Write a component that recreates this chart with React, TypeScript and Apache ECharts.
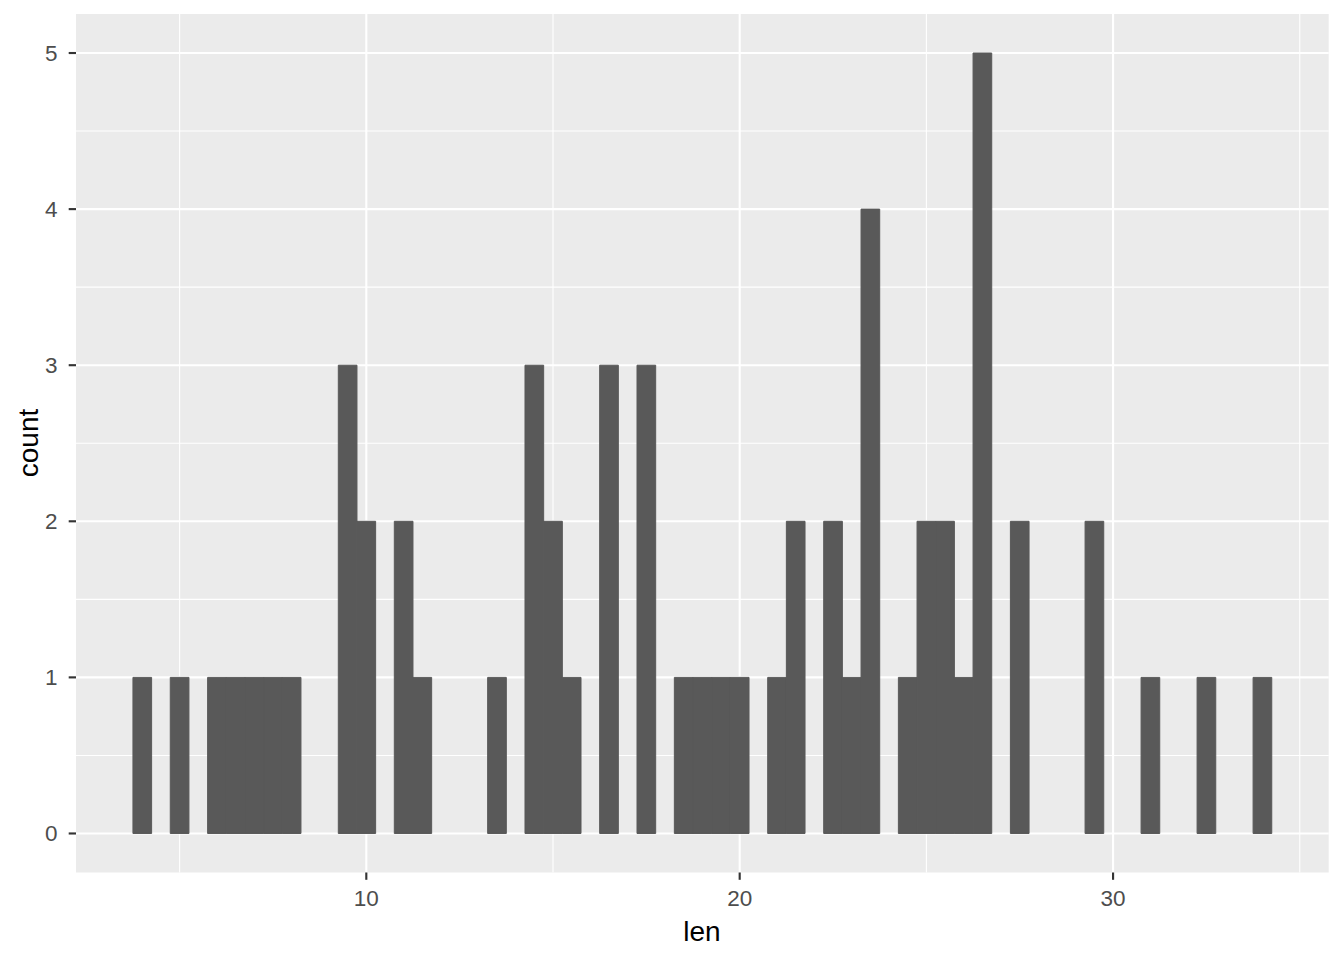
import React, { useEffect, useRef } from "react";
import * as echarts from "echarts";

// Histogram of len (binwidth 0.5); bin centres and counts
const binWidth = 0.5;
const binCenters = [
  4, 5, 6, 6.5, 7, 7.5, 8, 9.5, 10, 11, 11.5, 13.5, 14.5, 15, 15.5, 16.5, 17.5,
  18.5, 19, 19.5, 20, 21, 21.5, 22.5, 23, 23.5, 24.5, 25, 25.5, 26, 26.5, 27.5,
  29.5, 31, 32.5, 34,
];
const counts = [
  1, 1, 1, 1, 1, 1, 1, 3, 2, 2, 1, 1, 3, 2, 1, 3, 3,
  1, 1, 1, 1, 1, 2, 2, 1, 4, 1, 2, 2, 1, 5, 2,
  2, 1, 1, 1,
];
const xTicks = [10, 20, 30];
const xMinor = [5, 15, 25, 35];
const yTicks = [0, 1, 2, 3, 4, 5];
const yMinor = [0.5, 1.5, 2.5, 3.5, 4.5];
const xLimits = [2.225, 35.775];
const yLimits = [-0.25, 5.25];
const xTitle = "len";
const yTitle = "count";

const FONT = "'Liberation Sans', Arial, sans-serif";
const TICK_LEN = 7.3;
const LABEL_SIZE = 22.5;

export default function App() {
  const ref = useRef<HTMLDivElement>(null);
  useEffect(() => {
    if (!ref.current) return;
    const chart = echarts.init(ref.current, undefined, { renderer: "svg" });

    const gridLines: any[] = [];
    xMinor.forEach((v) => gridLines.push([v, 0, 1.07]));
    yMinor.forEach((v) => gridLines.push([v, 1, 1.07]));
    xTicks.forEach((v) => gridLines.push([v, 0, 2.13]));
    yTicks.forEach((v) => gridLines.push([v, 1, 2.13]));

    const tickData: any[] = [];
    xTicks.forEach((v) => tickData.push([v, 0]));
    yTicks.forEach((v) => tickData.push([v, 1]));

    const option: any = {
      animation: false,
      grid: {
        left: 76,
        right: 15.3,
        top: 14,
        bottom: 87.5,
        show: true,
        backgroundColor: "#EBEBEB",
        borderWidth: 0,
      },
      xAxis: {
        type: "value",
        min: xLimits[0],
        max: xLimits[1],
        axisLine: { show: false, onZero: false },
        splitLine: { show: false },
        axisTick: { show: false },
        axisLabel: { show: false },
      },
      yAxis: {
        type: "value",
        min: yLimits[0],
        max: yLimits[1],
        axisLine: { show: false, onZero: false },
        splitLine: { show: false },
        axisTick: { show: false },
        axisLabel: { show: false },
      },
      series: [
        {
          type: "custom",
          z: 1,
          silent: true,
          data: gridLines,
          renderItem: (params: any, api: any) => {
            const cs = params.coordSys;
            const v = api.value(0);
            const dir = api.value(1);
            const w = api.value(2);
            if (dir === 0) {
              const p = api.coord([v, 0]);
              return {
                type: "line",
                shape: { x1: p[0], y1: cs.y, x2: p[0], y2: cs.y + cs.height },
                style: { stroke: "#FFFFFF", lineWidth: w },
              };
            }
            const p = api.coord([xLimits[0], v]);
            return {
              type: "line",
              shape: { x1: cs.x, y1: p[1], x2: cs.x + cs.width, y2: p[1] },
              style: { stroke: "#FFFFFF", lineWidth: w },
            };
          },
        },
        {
          type: "custom",
          z: 2,
          data: binCenters.map((c, i) => [c, counts[i]]),
          renderItem: (params: any, api: any) => {
            const c = api.value(0);
            const n = api.value(1);
            const p0 = api.coord([c - binWidth / 2, n]);
            const p1 = api.coord([c + binWidth / 2, 0]);
            return {
              type: "rect",
              shape: { x: p0[0], y: p0[1], width: p1[0] - p0[0], height: p1[1] - p0[1] },
              style: { fill: "#595959", stroke: "#595959", lineWidth: 1 },
            };
          },
        },
        {
          type: "custom",
          z: 3,
          silent: true,
          clip: false,
          data: tickData,
          renderItem: (params: any, api: any) => {
            const cs = params.coordSys;
            const v = api.value(0);
            const dir = api.value(1);
            if (dir === 0) {
              const p = api.coord([v, 0]);
              const yb = cs.y + cs.height;
              return {
                type: "group",
                children: [
                  {
                    type: "line",
                    shape: { x1: p[0], y1: yb, x2: p[0], y2: yb + TICK_LEN },
                    style: { stroke: "#333333", lineWidth: 2.13 },
                  },
                  {
                    type: "text",
                    x: p[0],
                    y: 898.3,
                    style: {
                      text: String(v),
                      fill: "#4D4D4D",
                      fontSize: LABEL_SIZE,
                      fontFamily: FONT,
                      align: "center",
                      verticalAlign: "middle",
                    },
                  },
                ],
              };
            }
            const p = api.coord([xLimits[0], v]);
            return {
              type: "group",
              children: [
                {
                  type: "line",
                  shape: { x1: cs.x - TICK_LEN, y1: p[1], x2: cs.x, y2: p[1] },
                  style: { stroke: "#333333", lineWidth: 2.13 },
                },
                {
                  type: "text",
                  x: 57.5,
                  y: p[1] + 0.5,
                  style: {
                    text: String(v),
                    fill: "#4D4D4D",
                    fontSize: LABEL_SIZE,
                    fontFamily: FONT,
                    align: "right",
                    verticalAlign: "middle",
                  },
                },
              ],
            };
          },
        },
      ],
      graphic: [
        {
          type: "text",
          x: 702,
          y: 931,
          style: {
            text: xTitle,
            fill: "#000000",
            fontSize: 28,
            fontFamily: FONT,
            textAlign: "center",
            textVerticalAlign: "middle",
          },
        },
        {
          type: "text",
          x: 28,
          y: 443,
          rotation: Math.PI / 2,
          style: {
            text: yTitle,
            fill: "#000000",
            fontSize: 28,
            fontFamily: FONT,
            textAlign: "center",
            textVerticalAlign: "middle",
          },
        },
      ],
    };
    chart.setOption(option);
    return () => chart.dispose();
  }, []);
  return (
    <div
      ref={ref}
      style={{ position: "absolute", left: 0, top: 0, width: 1344, height: 960, background: "#FFFFFF" }}
    />
  );
}
